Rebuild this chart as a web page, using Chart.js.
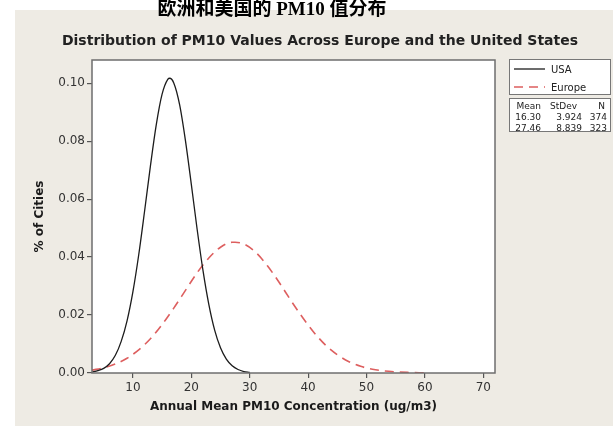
<!DOCTYPE html>
<html>
<head>
<meta charset="utf-8">
<script src="https://cdn.jsdelivr.net/npm/chart.js@4.4.1/dist/chart.umd.min.js"></script>
<style>
    html, body { margin: 0; padding: 0; background: #fff; }
    #wrap { width: 613px; height: 426px; }
</style>
</head>
<body>
<div id="wrap"><canvas id="pmChart" width="613" height="426"></canvas></div>
<script>
// --- Data ---
const chineseTitle = '欧洲和美国的 PM10 值分布';
const chartTitle = 'Distribution of PM10 Values Across Europe and the United States';
const xTitle = 'Annual Mean PM10 Concentration (ug/m3)';
const yTitle = '% of Cities';

const xTicks = [10, 20, 30, 40, 50, 60, 70];
const yTicks = [0, 0.02, 0.04, 0.06, 0.08, 0.10];

const usaX = [3, 4, 5, 6, 7, 8, 9, 10, 11, 12, 13, 14, 15, 16, 16.3, 17, 18, 19, 20, 21, 22, 23, 24, 25, 26, 27, 28, 29, 30];
const usaY = [0.0003, 0.0008, 0.0016, 0.0032, 0.0061, 0.0109, 0.018, 0.028, 0.0408, 0.0558, 0.0714, 0.0856, 0.0962, 0.1014, 0.1017, 0.1001, 0.0926, 0.0802, 0.0652, 0.0496, 0.0354, 0.0237, 0.0148, 0.0087, 0.0048, 0.0025, 0.0012, 0.0005, 0.0002];

const europeX = [3, 5, 7, 9, 11, 13, 15, 17, 19, 21, 23, 25, 27, 27.5, 29, 31, 33, 35, 37, 39, 41, 43, 45, 47, 49, 51, 53, 55, 57, 59, 60];
const europeY = [0.001, 0.0018, 0.0031, 0.0051, 0.008, 0.0118, 0.0167, 0.0224, 0.0285, 0.0346, 0.0397, 0.0434, 0.0451, 0.0451, 0.0445, 0.0417, 0.0371, 0.0314, 0.0252, 0.0193, 0.014, 0.0096, 0.0063, 0.0039, 0.0023, 0.0013, 0.0007, 0.0004, 0.0002, 0.0001, 0.0001];

const statHeader = ['Mean', 'StDev', 'N'];
const usaStats = ['16.30', '3.924', '374'];
const europeStats = ['27.46', '8.839', '323'];

// --- Decorations ---
const panelPlugin = {
    id: 'panel',
    beforeDraw(chart) {
        const { ctx, chartArea: a } = chart;
        ctx.save();
        ctx.fillStyle = '#ffffff';
        ctx.fillRect(0, 0, chart.width, chart.height);
        ctx.fillStyle = '#eeebe4';
        ctx.fillRect(15, 10, chart.width - 15, chart.height - 10);
        ctx.fillStyle = '#ffffff';
        ctx.fillRect(a.left, a.top, a.right - a.left, a.bottom - a.top);
        ctx.restore();
    },
    afterDatasetsDraw(chart) {
        const { ctx, chartArea: a } = chart;
        ctx.save();
        ctx.strokeStyle = '#6e6e6e';
        ctx.lineWidth = 1.5;
        ctx.strokeRect(a.left, a.top, a.right - a.left, a.bottom - a.top);
        ctx.restore();
    },
    afterDraw(chart) {
        const ctx = chart.ctx;
        ctx.save();

        // titles
        ctx.textAlign = 'center';
        ctx.textBaseline = 'middle';
        ctx.fillStyle = '#000';
        ctx.font = "bold 19px 'Liberation Serif', 'Noto Sans CJK SC', serif";
        ctx.fillText(chineseTitle, 272, 10);
        ctx.fillStyle = '#222';
        ctx.font = "bold 14px 'DejaVu Sans', sans-serif";
        ctx.fillText(chartTitle, 320, 41);

        // legend box
        const bx = 509, bw = 101;
        ctx.fillStyle = '#fff';
        ctx.strokeStyle = '#777';
        ctx.lineWidth = 1;
        ctx.fillRect(bx, 59, bw, 35);
        ctx.strokeRect(bx + 0.5, 59.5, bw, 35);
        ctx.fillRect(bx, 98, bw, 33);
        ctx.strokeRect(bx + 0.5, 98.5, bw, 33);

        const rows = [69, 87];
        chart.data.datasets.forEach((ds, i) => {
            ctx.strokeStyle = ds.borderColor;
            ctx.lineWidth = ds.borderWidth;
            ctx.setLineDash(ds.borderDash || []);
            ctx.beginPath();
            ctx.moveTo(514, rows[i]);
            ctx.lineTo(545, rows[i]);
            ctx.stroke();
            ctx.setLineDash([]);
            ctx.fillStyle = '#222';
            ctx.font = "10px 'DejaVu Sans', sans-serif";
            ctx.textAlign = 'left';
            ctx.fillText(ds.label, 551, rows[i] + 1);
        });

        // stats table
        ctx.font = "9px 'DejaVu Sans', sans-serif";
        ctx.fillStyle = '#222';
        ctx.textAlign = 'right';
        const headRight = [541, 577, 605];
        const cellRight = [541, 582, 607];
        statHeader.forEach((txt, c) => ctx.fillText(txt, headRight[c], 107));
        [usaStats, europeStats].forEach((row, r) => {
            row.forEach((txt, c) => ctx.fillText(txt, cellRight[c], 118 + r * 10.5));
        });
        ctx.restore();
    }
};

const tickFont = { family: "'DejaVu Sans', sans-serif", size: 12 };
const titleFont = { family: "'DejaVu Sans', sans-serif", size: 12, weight: 'bold' };

new Chart(document.getElementById('pmChart'), {
    type: 'line',
    data: {
        datasets: [
            {
                label: 'USA',
                data: usaX.map((x, i) => ({ x, y: usaY[i] })),
                borderColor: '#1c1c1c',
                borderWidth: 1.3,
                pointRadius: 0,
                cubicInterpolationMode: 'monotone',
                fill: false
            },
            {
                label: 'Europe',
                data: europeX.map((x, i) => ({ x, y: europeY[i] })),
                borderColor: '#dd5f5f',
                borderWidth: 1.6,
                borderDash: [9, 6],
                pointRadius: 0,
                cubicInterpolationMode: 'monotone',
                fill: false
            }
        ]
    },
    options: {
        responsive: false,
        animation: false,
        layout: { padding: { top: 60, right: 118, left: 0, bottom: 0 } },
        plugins: {
            legend: { display: false },
            tooltip: { enabled: false }
        },
        scales: {
            x: {
                type: 'linear',
                min: 3,
                max: 72,
                afterBuildTicks: s => { s.ticks = xTicks.map(v => ({ value: v })); },
                afterFit: s => { s.height = 53; },
                grid: { drawOnChartArea: false, tickLength: 5, color: '#555', lineWidth: 1.2 },
                border: { display: false },
                ticks: { font: tickFont, color: '#333', padding: 3, maxRotation: 0 },
                title: { display: true, text: xTitle, font: titleFont, color: '#1a1a1a', padding: { top: 0, bottom: 12 } }
            },
            y: {
                min: 0,
                max: 0.108,
                afterBuildTicks: s => { s.ticks = yTicks.map(v => ({ value: v })); },
                afterFit: s => { s.width = 92; },
                grid: { drawOnChartArea: false, tickLength: 5, color: '#555', lineWidth: 1.2 },
                border: { display: false },
                ticks: { font: tickFont, color: '#333', padding: 2, callback: v => v.toFixed(2) },
                title: { display: true, text: yTitle, font: titleFont, color: '#1a1a1a', padding: { top: 33, bottom: 0 } }
            }
        }
    },
    plugins: [panelPlugin]
});
</script>
</body>
</html>
